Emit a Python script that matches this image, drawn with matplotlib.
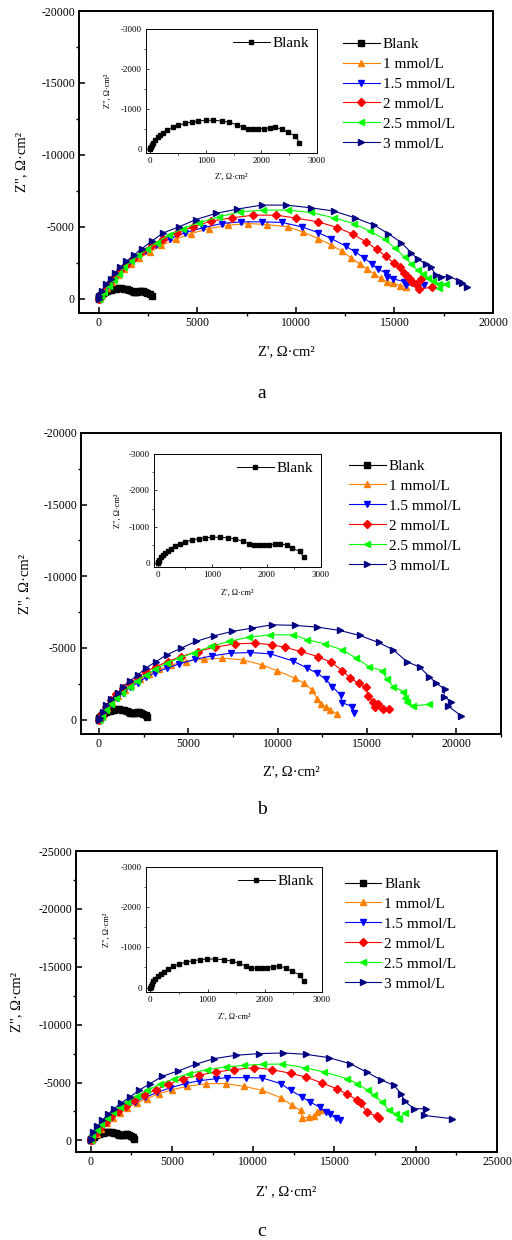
import matplotlib
matplotlib.use('Agg')
import matplotlib.pyplot as plt
from matplotlib.ticker import MultipleLocator

plt.rcParams['font.family'] = ['Liberation Serif', 'DejaVu Serif']
plt.rcParams['axes.unicode_minus'] = False

# ---- data: Z' and Z'' (ohm*cm2) ----
labels = ['Blank', '1 mmol/L', '1.5 mmol/L', '2 mmol/L', '2.5 mmol/L', '3 mmol/L']
colors = ['black', '#FF8000', '#0000FF', '#FF0000', '#00FF00', '#000080']
markers = ['s', '^', 'v', 'D', '<', '>']

blank_re = [0, 5, 12, 24, 54, 90, 132, 180, 235, 307, 403, 505, 625, 746, 866, 998, 1137, 1287,
            1425, 1557, 1678, 1768, 1858, 1948, 2038, 2147, 2249, 2369, 2471, 2610, 2682]
blank_im = [0, -15, -45, -93, -152, -211, -279, -338, -397, -465, -533, -583, -634, -668, -693,
            -710, -710, -693, -659, -600, -533, -482, -482, -490, -499, -524, -533, -490, -406, -321, -152]

# panel a
a_1_re = [0, 60, 183, 433, 683, 967, 1300, 1633, 2067, 2600, 3183, 3900, 4683, 5600, 6567, 7567, 8517,
          9600, 10350, 11133, 11767, 12350, 12800, 13233, 13600, 13967, 14300, 14600, 14933, 15267, 15567]
a_1_im = [0, -100, -256, -723, -1189, -1608, -2028, -2424, -2821, -3240, -3706, -4126, -4522, -4872, -5105,
          -5221, -5151, -4988, -4639, -4173, -3753, -3287, -2821, -2424, -2075, -1725, -1422, -1189, -1096, -909, -793]
a_15_re = [0, 100, 350, 600, 850, 1130, 1470, 1850, 2350, 2930, 3630, 4400, 5270, 6230, 7230, 8270, 9300,
           10300, 11130, 11800, 12520, 13020, 13470, 13850, 14180, 14570, 14600, 14930, 15470, 15600, 16500]
a_15_im = [0, -210, -723, -1189, -1608, -2028, -2424, -2821, -3287, -3706, -4173, -4592, -4918, -5221, -5338,
           -5338, -5300, -4990, -4592, -4173, -3660, -3240, -2821, -2424, -2028, -1795, -1492, -1375, -1189, -956, -930]
a_2_re = [0, 80, 267, 517, 800, 1100, 1400, 1733, 2183, 2683, 3267, 3967, 4767, 5683, 6767, 7850, 9017, 10000,
          11133, 12100, 12900, 13567, 14100, 14567, 14967, 15267, 15467, 15633, 15800, 15900, 16100, 16350, 16270, 16930]
a_2_im = [0, -180, -559, -1026, -1492, -1958, -2354, -2774, -3287, -3753, -4173, -4592, -4988, -5385, -5618, -5804,
          -5804, -5600, -5338, -4942, -4476, -3939, -3427, -2937, -2471, -2191, -1795, -1562, -1375, -1189, -1026,
          -1375, -676, -793]
a_25_re = [0, 100, 267, 517, 767, 1017, 1300, 1633, 2017, 2433, 2933, 3567, 4267, 5100, 6100, 7183, 8350, 9600,
           10767, 11933, 12933, 13767, 14517, 15017, 15517, 15850, 16183, 16433, 16683, 16933, 17267, 17600, 17280]
a_25_im = [0, -160, -443, -909, -1329, -1725, -2191, -2587, -3007, -3427, -3893, -4406, -4872, -5291, -5688, -6037,
           -6154, -6154, -5991, -5617, -5221, -4685, -4126, -3520, -2890, -2424, -1958, -1725, -1422, -1259, -1026,
           -1026, -720]
a_3_re = [0, 17, 183, 350, 600, 850, 1100, 1400, 1767, 2183, 2683, 3267, 4067, 4933, 5933, 7017, 8267, 9517,
          10767, 11933, 13017, 13967, 14683, 15350, 15850, 16183, 16600, 16850, 17100, 17350, 17767, 18267, 18433, 18683]
a_3_im = [0, -210, -559, -1026, -1375, -1795, -2191, -2587, -3007, -3473, -3986, -4569, -4988, -5501, -5921, -6224,
          -6503, -6503, -6315, -6084, -5615, -5105, -4524, -3895, -3196, -2727, -2425, -2191, -1655, -1538, -1538,
          -1259, -1095, -793]

# panel b
b_1_re = [0, 204, 463, 759, 1074, 1444, 1815, 2278, 2796, 3389, 4037, 4870, 5889, 6907, 8056, 9130, 9963,
          10981, 11480, 11945, 12225, 12410, 12690, 12960, 13335]
b_1_im = [0, -326, -793, -1259, -1655, -2075, -2424, -2821, -3193, -3520, -3822, -4056, -4219, -4289, -4173,
          -3822, -3427, -2890, -2541, -2075, -1422, -1096, -862, -676, -396]
b_15_re = [0, 148, 426, 704, 1019, 1352, 1759, 2185, 2648, 3167, 3796, 4500, 5389, 6352, 7370, 8481, 9593,
           10850, 11670, 12220, 12690, 13060, 13520, 13610, 14170, 14260]
b_15_im = [0, -210, -676, -1096, -1492, -1888, -2261, -2587, -2960, -3287, -3590, -3893, -4219, -4452, -4639,
           -4685, -4592, -4100, -3590, -3240, -2821, -2308, -1725, -1189, -909, -443]
b_2_re = [0, 148, 426, 704, 981, 1352, 1722, 2185, 2648, 3204, 3852, 4593, 5519, 6500, 7611, 8759, 9700,
          10400, 11300, 12250, 13000, 13610, 14075, 14540, 14965, 15035, 15335, 15590, 15450, 15925, 16260]
b_2_im = [0, -396, -909, -1375, -1795, -2191, -2541, -2960, -3357, -3706, -4056, -4406, -4755, -5058, -5291,
          -5338, -5220, -5050, -4760, -4400, -4000, -3430, -2890, -2541, -2261, -1655, -1259, -1096, -900, -723, -723]
b_25_re = [0, 148, 426, 704, 981, 1315, 1722, 2130, 2611, 3167, 3796, 4500, 5333, 6259, 7278, 8389, 9593,
           10889, 11667, 12630, 13611, 14408, 15093, 15834, 16111, 16482, 17037, 17130, 17250, 17593, 18450]
b_25_im = [0, -210, -676, -1096, -1492, -1888, -2308, -2727, -3124, -3520, -3939, -4289, -4685, -5105, -5455,
           -5757, -5920, -5920, -5571, -5291, -4872, -4289, -3706, -3427, -2821, -2308, -1958, -1492, -1250, -956, -1070]
b_3_re = [0, 60, 204, 426, 704, 1074, 1352, 1759, 2185, 2611, 3204, 3796, 4593, 5426, 6444, 7463, 8574, 9685,
          10950, 12220, 13480, 14590, 15650, 16480, 17220, 17960, 18480, 18890, 19350, 19300, 19720, 19540, 20280]
b_3_im = [0, -150, -559, -1026, -1422, -1888, -2308, -2727, -3124, -3590, -4056, -4522, -4988, -5455, -5851,
          -6154, -6387, -6620, -6580, -6457, -6224, -5874, -5385, -4872, -4056, -3660, -3007, -2541, -2121, -1608,
          -1259, -956, -256]

# panel c
c_1_re = [0, 102, 369, 656, 1025, 1394, 1804, 2255, 2829, 3444, 4203, 5023, 5945, 7073, 8303, 9430, 10558,
          11685, 12403, 12915, 13018, 13428, 13735, 13940, 14145]
c_1_im = [0, -144, -577, -1009, -1499, -1960, -2364, -2826, -3229, -3604, -4036, -4383, -4671, -4902, -4902,
          -4671, -4325, -3700, -3028, -2595, -1960, -2000, -2076, -2450, -2652]
c_15_re = [0, 100, 350, 620, 960, 1330, 1740, 2200, 2740, 3360, 4100, 4900, 5800, 6650, 7700, 8400, 9550,
           10560, 11700, 12300, 13020, 13490, 14100, 14450, 14720, 15070, 15330]
c_15_im = [0, -250, -620, -1060, -1540, -2000, -2450, -2900, -3320, -3720, -4150, -4550, -4900, -5150, -5330,
           -5420, -5420, -5400, -4900, -4330, -3750, -3320, -2880, -2450, -2250, -1960, -1790]
c_2_re = [0, 41, 308, 574, 922, 1271, 1681, 2153, 2665, 3280, 4018, 4756, 5699, 6663, 7688, 8815, 10045,
          11173, 12300, 13223, 14248, 15129, 15744, 16359, 16646, 16974, 17630, 17733]
c_2_im = [0, -144, -634, -1096, -1586, -2076, -2537, -3000, -3460, -3893, -4383, -4844, -5334, -5623, -5911,
          -6112, -6286, -6112, -5800, -5478, -4960, -4469, -4036, -3518, -3229, -2450, -2076, -1960]
c_25_re = [0, 102, 369, 656, 1025, 1394, 1804, 2255, 2829, 3485, 4264, 5125, 6048, 7134, 8303, 9430, 10619,
           11800, 13161, 14350, 15785, 16400, 17056, 17425, 17937, 18348, 18758, 18963, 19311]
c_25_im = [0, -433, -923, -1441, -1960, -2450, -2884, -3316, -3806, -4325, -4844, -5334, -5767, -6112, -6343,
           -6488, -6574, -6600, -6286, -5911, -5334, -4900, -4325, -3893, -3316, -2595, -2306, -1874, -2364]
c_3_re = [0, 40, 164, 410, 717, 1066, 1435, 1886, 2419, 2972, 3649, 4408, 5371, 6458, 7585, 8918, 10353,
          11851, 13223, 14658, 15949, 16974, 17835, 18655, 19106, 19311, 19885, 20603, 20500, 22244]
c_3_im = [0, -150, -721, -1211, -1730, -2249, -2739, -3229, -3748, -4325, -4902, -5536, -5997, -6574, -7064,
          -7353, -7497, -7555, -7439, -7151, -6631, -5911, -5247, -4758, -4036, -3402, -2739, -2739, -2163, -1874]

W, H = 512, 1240


def box(l, t, r, b):
    # pixel box -> figure fraction
    return [l / W, 1 - b / H, (r - l) / W, (b - t) / H]


def style(ax, lw, major, minor, size, tlen):
    for s in ax.spines.values():
        s.set_linewidth(lw)
    ax.xaxis.set_major_locator(MultipleLocator(major))
    ax.yaxis.set_major_locator(MultipleLocator(major))
    ax.xaxis.set_minor_locator(MultipleLocator(minor))
    ax.yaxis.set_minor_locator(MultipleLocator(minor))
    ax.tick_params(which='major', direction='in', length=tlen, width=lw * 0.8,
                   labelsize=size, top=False, right=False, pad=3)
    ax.tick_params(which='minor', direction='out', length=tlen * 0.6, width=lw * 0.7,
                   top=False, right=False)


panels = [
    dict(main=(79, 11, 493, 313), inset=(146, 29, 317, 153), xlim=(-1000, 20000), ylim=(1000, -20000),
         data=[(blank_re, blank_im), (a_1_re, a_1_im), (a_15_re, a_15_im), (a_2_re, a_2_im),
               (a_25_re, a_25_im), (a_3_re, a_3_im)],
         letter='a', letter_y=393, xl_y=352, yl_x=22, ixl_y=177, iyl_x=108, xlabel="Z', Ω·cm²"),
    dict(main=(81, 433, 501, 734), inset=(154, 454, 321, 567), xlim=(-1000, 22500), ylim=(1000, -20000),
         data=[(blank_re, blank_im), (b_1_re, b_1_im), (b_15_re, b_15_im), (b_2_re, b_2_im),
               (b_25_re, b_25_im), (b_3_re, b_3_im)],
         letter='b', letter_y=810, xl_y=772, yl_x=25, ixl_y=593, iyl_x=118, xlabel="Z', Ω·cm²"),
    dict(main=(76, 851, 497, 1152), inset=(146, 867, 322, 992), xlim=(-900, 25000), ylim=(1000, -25000),
         data=[(blank_re, blank_im), (c_1_re, c_1_im), (c_15_re, c_15_im), (c_2_re, c_2_im),
               (c_25_re, c_25_im), (c_3_re, c_3_im)],
         letter='c', letter_y=1232, xl_y=1192, yl_x=17, ixl_y=1017, iyl_x=107, xlabel="Z' , Ω·cm²"),
]

fig = plt.figure(figsize=(W / 100, H / 100), dpi=100)

for p in panels:
    l, t, r, b = p['main']
    ax = fig.add_axes(box(l, t, r, b))
    for (re, im), lab, c, m in zip(p['data'], labels, colors, markers):
        ms = 4.0 if m == 'D' else 4.6
        if lab == 'Blank':
            ms = 5.0
        ax.plot(re, im, color=c, marker=m, ms=ms, mec=c, lw=0.8, label=lab)
    ax.set_xlim(*p['xlim'])
    ax.set_ylim(*p['ylim'])
    style(ax, 1.4, 5000, 2500, 8.5, 4)
    ax.set_xlabel(p['xlabel'], fontsize=10.5, va='center')
    ax.xaxis.set_label_coords(0.5, -(p['xl_y'] - b) / (b - t))
    ax.set_ylabel('Z", Ω·cm²', fontsize=10.5, va='center')
    ax.yaxis.set_label_coords((p['yl_x'] - l) / (r - l), 0.5)
    ax.legend(loc='upper left', bbox_to_anchor=(0.638, 0.913), frameon=False, fontsize=11,
              handlelength=2.4, handletextpad=0.2, labelspacing=0.41, borderpad=0, borderaxespad=0)

    il, it, ir, ib = p['inset']
    ins = fig.add_axes(box(il, it, ir, ib))
    ins.plot(blank_re, blank_im, color='black', marker='s', ms=2.4, lw=0.7, label='Blank')
    ins.set_xlim(-75, 3000)
    ins.set_ylim(110, -3000)
    style(ins, 0.7, 1000, 500, 6.5, 2.5)
    ins.set_xlabel("Z', Ω·cm²", fontsize=6, va='center')
    ins.xaxis.set_label_coords(0.5, -(p['ixl_y'] - ib) / (ib - it))
    ins.set_ylabel('Z", Ω·cm²', fontsize=6, va='center')
    ins.yaxis.set_label_coords((p['iyl_x'] - il) / (ir - il), 0.5)
    ins.legend(loc='upper right', frameon=False, fontsize=11, handlelength=2.4,
               handletextpad=0.2, borderpad=0.2, borderaxespad=0.3)

    fig.text(262 / W, 1 - p['letter_y'] / H, p['letter'], fontsize=14, ha='center', va='center')

fig.savefig('out.png', dpi=100)
